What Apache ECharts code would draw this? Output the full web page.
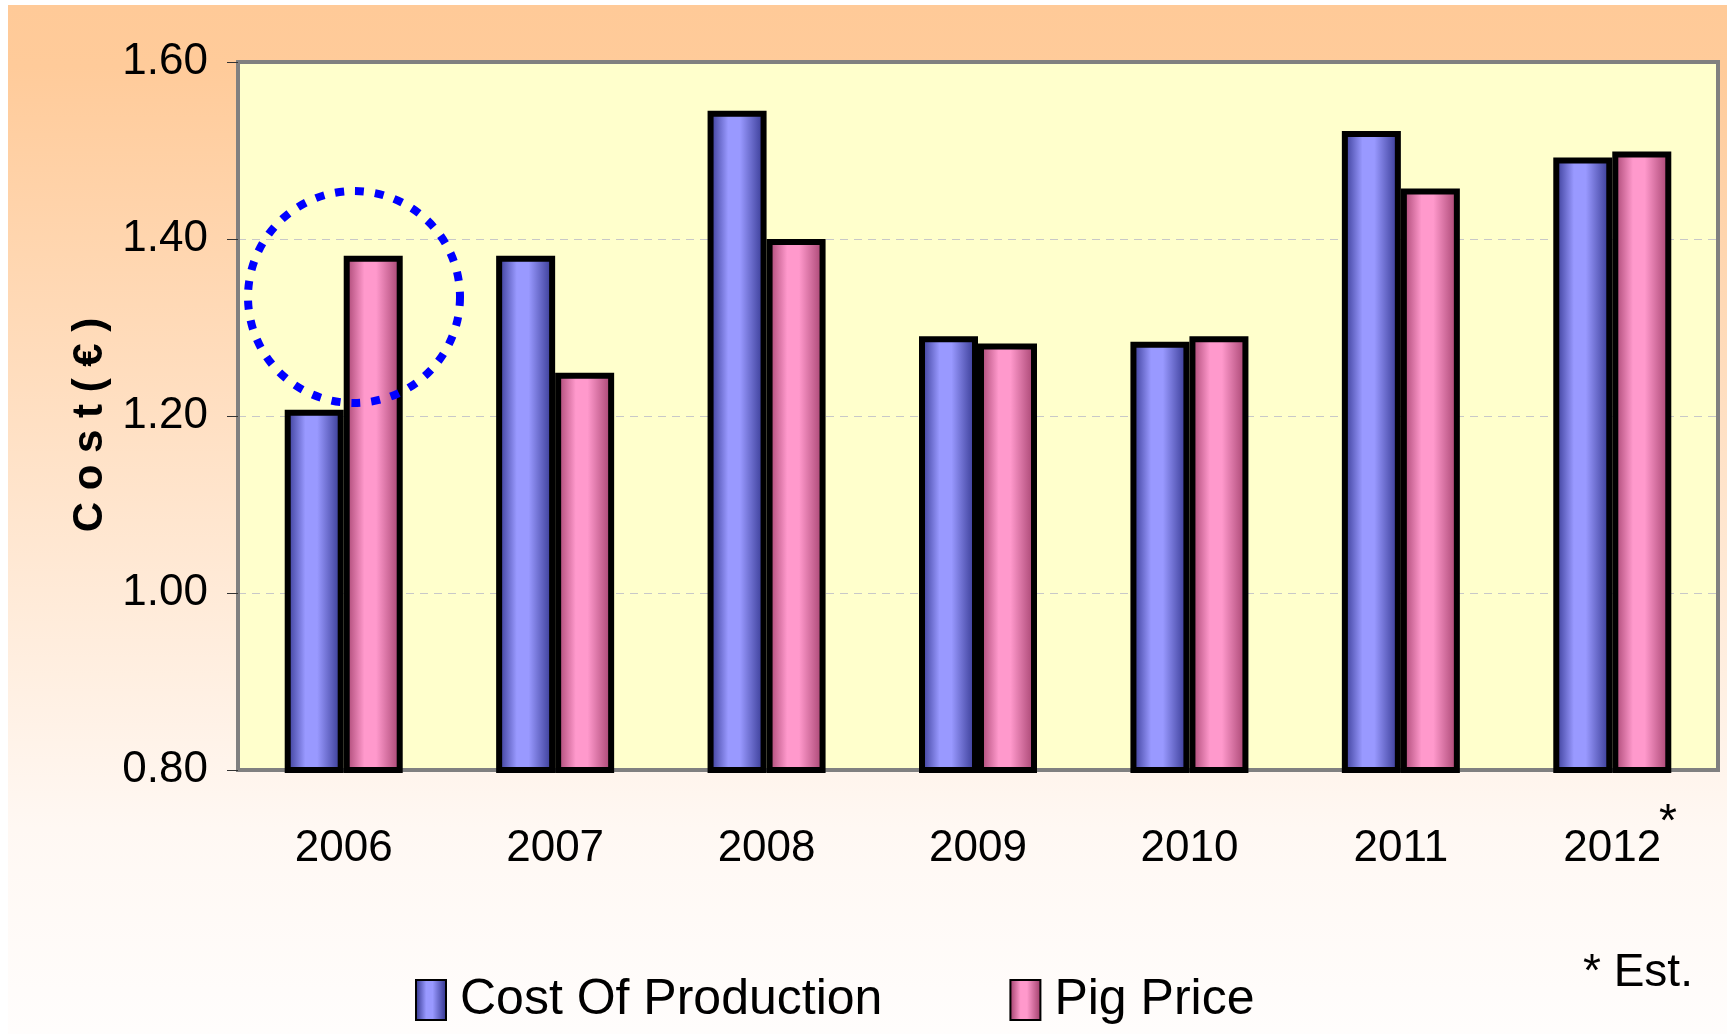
<!DOCTYPE html>
<html>
<head>
<meta charset="utf-8">
<title>Cost of production vs pig price</title>
<script src="https://cdn.jsdelivr.net/npm/echarts@6/dist/echarts.min.js"></script>
<style>
  html, body { margin: 0; padding: 0; background: #fff; }
  #chart { width: 1727px; height: 1034px; }
</style>
</head>
<body>
<div id="chart"></div>
<script>
const years = ['2006', '2007', '2008', '2009', '2010', '2011', '2012']
const costOfProduction = [1.207, 1.381, 1.545, 1.29, 1.284, 1.522, 1.492]
const pigPrice = [1.381, 1.249, 1.40, 1.282, 1.29, 1.457, 1.499]
const yTicks = [0.8, 1.0, 1.2, 1.4, 1.6]

const font = "'Liberation Sans', Arial, sans-serif"

// horizontal shading on the bars (dark edges, light middle)
const shade = (dark, light) => ({
  type: 'linear', x: 0, y: 0, x2: 1, y2: 0,
  colorStops: [
    { offset: 0, color: dark },
    { offset: 0.35, color: light },
    { offset: 0.55, color: light },
    { offset: 1, color: dark },
  ],
})

const chart = echarts.init(document.getElementById('chart'))

chart.setOption({
  animation: false,
  graphic: [
    {
      type: 'rect',
      z: -10,
      silent: true,
      shape: { x: 8, y: 5, width: 1719, height: 1029 },
      style: {
        fill: {
          type: 'linear', x: 0, y: 0, x2: 0, y2: 1,
          colorStops: [
            { offset: 0, color: '#FFCA98' },
            { offset: 0.06, color: '#FFCB9A' },
            { offset: 0.8, color: '#FFF8F3' },
            { offset: 1, color: '#FFFDFC' },
          ],
        },
      },
    },
    {
      // dotted highlight round 2006
      type: 'circle',
      z: 100,
      silent: true,
      shape: { cx: 354, cy: 297, r: 106 },
      style: { fill: null, stroke: '#0000FF', lineWidth: 8, lineDash: [9, 11] },
    },
    {
      type: 'text',
      z: 100,
      left: 1659,
      top: 800,
      style: { text: '*', font: '46px ' + font, fill: '#000' },
    },
    {
      type: 'text',
      z: 100,
      left: 1583,
      top: 950,
      style: { text: '* Est.', font: '46px ' + font, fill: '#000' },
    },
  ],
  grid: {
    left: 238,
    right: 9,
    top: 62,
    bottom: 264,
    show: true,
    backgroundColor: '#FFFFCC',
    borderColor: '#808080',
    borderWidth: 4,
  },
  legend: {
    left: 410,
    top: 970,
    itemWidth: 30,
    itemHeight: 40,
    itemGap: 127,
    icon: 'rect',
    textStyle: { fontSize: 50, fontFamily: font, color: '#000', padding: [0, 0, 0, 9] },
  },
  xAxis: {
    type: 'category',
    data: years,
    axisLine: { lineStyle: { color: '#808080', width: 2 } },
    axisTick: { length: 15, lineStyle: { color: '#333', width: 1 } },
    axisLabel: { margin: 57, fontSize: 44, fontFamily: font, color: '#000' },
  },
  yAxis: {
    type: 'value',
    min: yTicks[0],
    max: yTicks[yTicks.length - 1],
    interval: 0.2,
    name: 'C o s t ( € )',
    nameLocation: 'middle',
    nameGap: 112,
    nameTextStyle: {
      fontSize: 42,
      fontWeight: 'bold',
      fontFamily: font,
      color: '#000',
      padding: [0, 18, 0, 0],
    },
    axisLine: { show: true, lineStyle: { color: '#808080', width: 3 } },
    axisTick: { show: true, length: 11, lineStyle: { color: '#333', width: 1 } },
    axisLabel: {
      margin: 30,
      fontSize: 44,
      fontFamily: font,
      color: '#000',
      formatter: v => v.toFixed(2),
    },
    splitLine: {
      show: true,
      showMinLine: false,
      showMaxLine: false,
      lineStyle: { color: '#C8C8C8', type: [8, 6], width: 1 },
    },
  },
  series: [
    {
      name: 'Cost Of Production',
      type: 'bar',
      data: costOfProduction,
      barWidth: 59,
      barGap: '0%',
      itemStyle: {
        color: shade('#2B2E86', '#9999FF'),
        borderColor: '#000',
        borderWidth: 6,
      },
    },
    {
      name: 'Pig Price',
      type: 'bar',
      data: pigPrice,
      barWidth: 59,
      barGap: '0%',
      itemStyle: {
        color: shade('#9C3A66', '#FF99CC'),
        borderColor: '#000',
        borderWidth: 6,
      },
    },
  ],
})
</script>
</body>
</html>
